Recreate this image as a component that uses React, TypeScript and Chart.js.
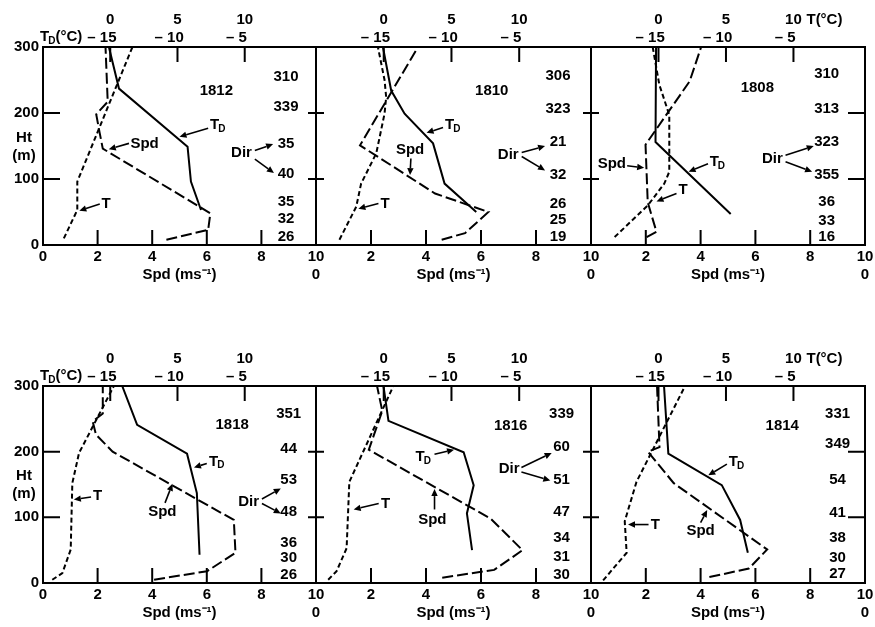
import React, { useEffect, useRef } from "react";
import { Chart, registerables } from "chart.js";

Chart.register(...registerables);

type Pt = [number, number]; // [value, height (m)]
type XY = [number, number]; // [Spd-axis position, height] used for text placement

// ---------- axis ticks ----------
const HT_TICKS = [0, 100, 200, 300];
const SPD_TICKS = [0, 2, 4, 6, 8, 10];
const T_TICKS = [0, 5, 10];
const TD_OFFSET = 15; // T_D scale label = T label - 15

// ---------- 1812 ----------
const T_1812: Pt[] = [[-3.45, 10], [-2.45, 53], [-2.45, 96], [1.65, 300]];
const TD_1812: Pt[] = [[-15.1, 300], [-14.35, 237], [-9.25, 149], [-9.0, 96], [-8.25, 53]];
const SPD_1812: Pt[] = [[4.52, 8], [6.05, 23], [6.13, 48], [2.19, 146], [2.07, 171], [1.95, 198], [2.37, 217], [2.29, 300]];
const DIR_1812 = [26, 32, 35, 40, 35, 339, 310];
const DIR_HT_1812 = [13, 40, 66, 108, 154, 209, 255];

// ---------- 1810 ----------
const T_1810: Pt[] = [[-3.27, 8], [-2.03, 58], [-1.67, 93], [-0.55, 139], [0.06, 199], [0.18, 224], [0.06, 250], [-0.43, 300]];
const TD_1810: Pt[] = [[-15.06, 300], [-14.45, 234], [-13.46, 199], [-11.36, 154], [-10.51, 93], [-8.17, 50]];
const SPD_1810: Pt[] = [[4.57, 8], [5.42, 18], [6.27, 50], [4.33, 78], [1.6, 151], [3.71, 300]];
const DIR_1810 = [19, 25, 26, 32, 21, 323, 306];
const DIR_HT_1810 = [13, 38, 63, 106, 156, 207, 257];

// ---------- 1808 ----------
const T_1808: Pt[] = [[-3.25, 12], [-0.79, 60], [0.43, 93], [0.8, 111], [0.8, 197], [0.06, 243], [-0.43, 300]];
const TD_1808: Pt[] = [[-15.18, 300], [-15.22, 156], [-9.65, 47]];
const SPD_1808: Pt[] = [[2.03, 12], [2.39, 20], [2.21, 45], [2.07, 65], [1.99, 152], [3.6, 248], [4.02, 300]];
const DIR_1808 = [16, 33, 36, 355, 323, 313, 310];
const DIR_HT_1808 = [12, 37, 65, 106, 156, 207, 260];

// ---------- 1818 ----------
const T_1818: Pt[] = [[-4.31, 5], [-3.56, 15], [-2.94, 51], [-2.82, 152], [-2.32, 198], [0.27, 300]];
const TD_1818: Pt[] = [[-14.11, 300], [-13.0, 241], [-9.29, 197], [-8.56, 137], [-8.36, 43]];
const SPD_1818: Pt[] = [[4.07, 5], [6.01, 18], [7.05, 46], [6.99, 96], [2.55, 200], [1.94, 226], [1.82, 246], [2.19, 258], [2.19, 300]];
const DIR_1818 = [26, 30, 36, 48, 53, 44, 351];
const DIR_HT_1818 = [13, 38, 61, 109, 157, 205, 258];

// ---------- 1816 ----------
const T_1816: Pt[] = [[-4.1, 5], [-3.48, 18], [-2.74, 53], [-2.54, 154], [0.71, 300]];
const TD_1816: Pt[] = [[-15.02, 300], [-14.65, 247], [-9.1, 199], [-8.36, 149], [-8.86, 106], [-8.48, 50]];
const SPD_1816: Pt[] = [[4.59, 8], [6.48, 20], [7.51, 50], [6.35, 98], [1.92, 203], [2.41, 262], [2.22, 300]];
const DIR_1816 = [30, 31, 34, 47, 51, 60, 339];
const DIR_HT_1816 = [13, 40, 68, 108, 157, 207, 257];

// ---------- 1814 ----------
const T_1814: Pt[] = [[-4.1, 4], [-2.36, 46], [-2.5, 94], [-1.63, 154], [1.97, 300]];
const TD_1814: Pt[] = [[-14.59, 300], [-14.27, 197], [-10.31, 149], [-8.95, 96], [-8.38, 46]];
const SPD_1814: Pt[] = [[4.32, 9], [5.76, 22], [6.43, 51], [3.02, 152], [2.08, 200], [2.5, 207], [2.41, 300]];
const DIR_1814 = [27, 30, 38, 41, 54, 349, 331];
const DIR_HT_1814 = [14, 39, 69, 107, 157, 212, 257];

// ---------- layout (pixels) ----------
const COLS: [number, number][] = [[43, 316], [316, 591], [591, 865]];
const ROWS: [number, number][] = [[47, 245], [386, 583]];
const PAD_L = 43;
const PAD_R = 22;
const PAD_T = 42;
const PAD_B = 46;
const FONT = "'Liberation Sans', Arial, Helvetica, sans-serif";
const FS = 15;

type Label = { text: string; at: XY; from?: XY; to?: XY };
type Panel = {
  id: string;
  row: number;
  col: number;
  t: Pt[];
  td: Pt[];
  spd: Pt[];
  dir: number[];
  dirHt: number[];
  idAt: XY;
  dirX: number;
  dirLabel?: { at: XY; arrows: [XY, XY][] };
  labels: Label[];
};

const PANELS: Panel[] = [
  {
    id: "1812", row: 0, col: 0, t: T_1812, td: TD_1812, spd: SPD_1812, dir: DIR_1812, dirHt: DIR_HT_1812,
    idAt: [6.35, 234], dirX: 8.9,
    dirLabel: { at: [7.27, 139], arrows: [[[7.76, 143], [8.43, 153]], [[7.76, 130], [8.46, 109]]] },
    labels: [
      { text: "TD", at: [6.42, 182], from: [6.05, 177], to: [5.0, 164] },
      { text: "Spd", at: [3.72, 154], from: [3.15, 154], to: [2.41, 145] },
      { text: "T", at: [2.31, 63], from: [2.08, 62], to: [1.33, 52] },
    ],
  },
  {
    id: "1810", row: 0, col: 1, t: T_1810, td: TD_1810, spd: SPD_1810, dir: DIR_1810, dirHt: DIR_HT_1810,
    idAt: [6.39, 234], dirX: 8.8,
    dirLabel: { at: [6.99, 136], arrows: [[[7.48, 140], [8.33, 150]], [[7.48, 134], [8.33, 113]]] },
    labels: [
      { text: "TD", at: [4.99, 182], from: [4.62, 178], to: [4.02, 170] },
      { text: "Spd", at: [3.42, 144], from: [3.45, 131], to: [3.42, 106] },
      { text: "T", at: [2.51, 63], from: [2.27, 63], to: [1.54, 55] },
    ],
  },
  {
    id: "1808", row: 0, col: 2, t: T_1808, td: TD_1808, spd: SPD_1808, dir: DIR_1808, dirHt: DIR_HT_1808,
    idAt: [6.07, 238], dirX: 8.6,
    dirLabel: { at: [6.62, 131], arrows: [[[7.1, 136], [8.13, 150]], [[7.1, 126], [8.07, 111]]] },
    labels: [
      { text: "TD", at: [4.63, 126], from: [4.27, 123], to: [3.56, 111] },
      { text: "Spd", at: [0.76, 123], from: [1.32, 120], to: [1.94, 117] },
      { text: "T", at: [3.36, 83], from: [3.12, 78], to: [2.39, 66] },
    ],
  },
  {
    id: "1818", row: 1, col: 0, t: T_1818, td: TD_1818, spd: SPD_1818, dir: DIR_1818, dirHt: DIR_HT_1818,
    idAt: [6.93, 241], dirX: 9.0,
    dirLabel: { at: [7.53, 124], arrows: [[[8.02, 128], [8.71, 144]], [[8.02, 121], [8.71, 106]]] },
    labels: [
      { text: "TD", at: [6.38, 185], from: [6.0, 182], to: [5.53, 176] },
      { text: "Spd", at: [4.37, 109], from: [4.47, 122], to: [4.74, 151] },
      { text: "T", at: [2.0, 132], from: [1.76, 131], to: [1.13, 127] },
    ],
  },
  {
    id: "1816", row: 1, col: 1, t: T_1816, td: TD_1816, spd: SPD_1816, dir: DIR_1816, dirHt: DIR_HT_1816,
    idAt: [7.08, 240], dirX: 8.93,
    dirLabel: { at: [7.02, 174], arrows: [[[7.47, 176], [8.57, 198]], [[7.47, 169], [8.52, 156]]] },
    labels: [
      { text: "TD", at: [3.92, 192], from: [4.31, 196], to: [5.02, 203] },
      { text: "Spd", at: [4.23, 96], from: [4.31, 112], to: [4.31, 143] },
      { text: "T", at: [2.53, 121], from: [2.28, 121], to: [1.37, 112] },
    ],
  },
  {
    id: "1814", row: 1, col: 2, t: T_1814, td: TD_1814, spd: SPD_1814, dir: DIR_1814, dirHt: DIR_HT_1814,
    idAt: [6.98, 240], dirX: 9.0,
    labels: [
      { text: "TD", at: [5.33, 184], from: [4.96, 181], to: [4.28, 164] },
      { text: "Spd", at: [4.0, 79], from: [4.0, 92], to: [4.24, 111] },
      { text: "T", at: [2.35, 89], from: [2.1, 89], to: [1.35, 89] },
    ],
  },
];

const font = (size: number) => `bold ${size}px ${FONT}`;

function drawTD(ctx: CanvasRenderingContext2D, x: number, y: number, align: "center" | "left", suffix = "") {
  ctx.font = font(FS);
  const wT = ctx.measureText("T").width;
  ctx.font = font(10);
  const wD = ctx.measureText("D").width;
  ctx.font = font(FS);
  const wS = suffix ? ctx.measureText(suffix).width : 0;
  const total = wT + wD + wS;
  let x0 = align === "center" ? x - total / 2 : x;
  ctx.textAlign = "left";
  ctx.textBaseline = "middle";
  ctx.font = font(FS);
  ctx.fillText("T", x0, y);
  ctx.font = font(10);
  ctx.fillText("D", x0 + wT - 1, y + 4);
  if (suffix) {
    ctx.font = font(FS);
    ctx.fillText(suffix, x0 + wT + wD - 1, y);
  }
}

function arrow(ctx: CanvasRenderingContext2D, x1: number, y1: number, x2: number, y2: number) {
  const ang = Math.atan2(y2 - y1, x2 - x1);
  const len = 7;
  const hw = 3.2;
  const bx = x2 - len * Math.cos(ang);
  const by = y2 - len * Math.sin(ang);
  ctx.beginPath();
  ctx.moveTo(x1, y1);
  ctx.lineTo(bx, by);
  ctx.lineWidth = 1.6;
  ctx.stroke();
  ctx.beginPath();
  ctx.moveTo(x2, y2);
  ctx.lineTo(bx + hw * Math.sin(ang), by - hw * Math.cos(ang));
  ctx.lineTo(bx - hw * Math.sin(ang), by + hw * Math.cos(ang));
  ctx.closePath();
  ctx.fill();
}

function makeOverlay(p: Panel) {
  return {
    id: "overlay_" + p.id,
    afterDatasetsDraw(chart: any) {
      const ctx: CanvasRenderingContext2D = chart.ctx;
      const a = chart.chartArea;
      const xs = chart.scales.x;
      const xt = chart.scales.xT;
      const ys = chart.scales.y;
      const X = (v: number) => xs.getPixelForValue(v);
      const Y = (v: number) => ys.getPixelForValue(v);
      ctx.save();
      ctx.strokeStyle = "#000";
      ctx.fillStyle = "#000";
      ctx.lineWidth = 2;
      ctx.strokeRect(a.left, a.top, a.right - a.left, a.bottom - a.top);
      // tick marks
      ctx.beginPath();
      for (const v of SPD_TICKS) {
        if (v === 0 || v === 10) continue;
        ctx.moveTo(X(v), a.bottom);
        ctx.lineTo(X(v), a.bottom - 15);
      }
      for (const v of T_TICKS) {
        const px = xt.getPixelForValue(v);
        ctx.moveTo(px, a.top);
        ctx.lineTo(px, a.top + 15);
      }
      for (const v of HT_TICKS) {
        if (v === 0 || v === 300) continue;
        const ll = p.col === 0 ? 17 : 8;
        const rl = p.col === 2 ? 17 : 8;
        ctx.moveTo(a.left, Y(v));
        ctx.lineTo(a.left + ll, Y(v));
        ctx.moveTo(a.right, Y(v));
        ctx.lineTo(a.right - rl, Y(v));
      }
      ctx.stroke();

      ctx.textAlign = "center";
      ctx.textBaseline = "middle";
      ctx.font = font(FS);
      // id
      ctx.fillText(p.id, X(p.idAt[0]), Y(p.idAt[1]));
      // wind directions
      p.dir.forEach((d, i) => {
        ctx.fillText(String(d), X(p.dirX), Y(p.dirHt[i]));
      });
      if (p.dirLabel) {
        ctx.fillText("Dir", X(p.dirLabel.at[0]), Y(p.dirLabel.at[1]));
        for (const [f, t] of p.dirLabel.arrows) arrow(ctx, X(f[0]), Y(f[1]), X(t[0]), Y(t[1]));
      }
      for (const l of p.labels) {
        if (l.text === "TD") drawTD(ctx, X(l.at[0]), Y(l.at[1]), "center");
        else {
          ctx.textAlign = "center";
          ctx.font = font(FS);
          ctx.fillText(l.text, X(l.at[0]), Y(l.at[1]));
        }
        if (l.from && l.to) arrow(ctx, X(l.from[0]), Y(l.from[1]), X(l.to[0]), Y(l.to[1]));
      }
      ctx.textAlign = "center";
      ctx.font = font(FS);
      if (p.col === 0) {
        ctx.fillText("Ht", a.left - 19, Y(163));
        ctx.fillText("(m)", a.left - 19, Y(135));
        drawTD(ctx, a.left - 3, a.top - 10, "left", "(°C)");
      }
      if (p.col === 2) {
        ctx.textAlign = "left";
        ctx.font = font(FS);
        ctx.fillText("T(°C)", xt.getPixelForValue(10) + 13, a.top - 27);
      }
      ctx.restore();
    },
  };
}

function toXY(pts: Pt[]) {
  return pts.map(([v, h]) => ({ x: v, y: h }));
}

function PanelChart({ p }: { p: Panel }) {
  const ref = useRef<HTMLCanvasElement | null>(null);
  const [cl, cr] = COLS[p.col];
  const [rt, rb] = ROWS[p.row];
  const w = cr - cl + PAD_L + PAD_R;
  const h = rb - rt + PAD_T + PAD_B;
  const left = cl - PAD_L;
  const top = rt - PAD_T;

  useEffect(() => {
    if (!ref.current) return;
    const baseFont = { family: FONT, size: FS, weight: "bold" as const, lineHeight: 1.2 };
    const chart = new Chart(ref.current, {
      type: "line",
      data: {
        datasets: [
          { data: toXY(p.td), xAxisID: "xTD", yAxisID: "y", borderColor: "#000", borderWidth: 2, pointRadius: 0, tension: 0, fill: false },
          { data: toXY(p.spd), xAxisID: "x", yAxisID: "y", borderColor: "#000", borderWidth: 2, borderDash: [11, 4], pointRadius: 0, tension: 0, fill: false },
          { data: toXY(p.t), xAxisID: "xT", yAxisID: "y", borderColor: "#000", borderWidth: 2, borderDash: [5, 3], pointRadius: 0, tension: 0, fill: false },
        ],
      },
      options: {
        animation: false,
        responsive: false,
        devicePixelRatio: 1,
        events: [],
        layout: { padding: { left: 0, right: PAD_R, top: 0, bottom: 0 }, autoPadding: false },
        plugins: { legend: { display: false }, tooltip: { enabled: false } },
        scales: {
          x: {
            type: "linear",
            position: "bottom",
            min: 0,
            max: 10,
            afterBuildTicks: (s: any) => { s.ticks = SPD_TICKS.map((v) => ({ value: v })); },
            afterFit: (s: any) => { s.height = PAD_B; },
            grid: { display: false, drawTicks: false },
            border: { display: false },
            ticks: {
              autoSkip: false,
              maxRotation: 0,
              padding: 3,
              color: "#000",
              font: baseFont,
              callback: (v: any) => {
                if (v === 0) return p.col === 0 ? "0" : ["", "0"];
                if (v === 10) return p.col === 2 ? ["10", "0"] : "10";
                return String(v);
              },
            },
            title: { display: true, text: "Spd (ms⁻¹)", color: "#000", font: baseFont, padding: { top: 4, bottom: 7 } },
          },
          xT: {
            type: "linear",
            position: "top",
            min: -5,
            max: 15.3,
            afterBuildTicks: (s: any) => { s.ticks = T_TICKS.map((v) => ({ value: v })); },
            afterFit: (s: any) => { s.height = PAD_T; },
            grid: { display: false, drawTicks: false },
            border: { display: false },
            ticks: {
              autoSkip: false,
              maxRotation: 0,
              padding: 0,
              color: "#000",
              font: baseFont,
              callback: (v: any) => [String(v), "– " + String(TD_OFFSET - v) + "    "],
            },
          },
          xTD: { type: "linear", display: false, min: -5 - TD_OFFSET, max: 15.3 - TD_OFFSET },
          y: {
            type: "linear",
            position: "left",
            min: 0,
            max: 300,
            afterBuildTicks: (s: any) => { s.ticks = HT_TICKS.map((v) => ({ value: v })); },
            afterFit: (s: any) => { s.width = PAD_L; },
            grid: { display: false, drawTicks: false },
            border: { display: false },
            ticks: { display: p.col === 0, padding: 4, color: "#000", font: baseFont, autoSkip: false },
          },
        },
      } as any,
      plugins: [makeOverlay(p)],
    });
    return () => chart.destroy();
  }, []);

  return (
    <canvas
      ref={ref}
      width={w}
      height={h}
      style={{ position: "absolute", left, top, width: w, height: h }}
    />
  );
}

export default function App() {
  return (
    <div style={{ position: "absolute", left: 0, top: 0, width: 875, height: 627, background: "#fff", overflow: "hidden" }}>
      {PANELS.map((p) => (
        <PanelChart key={p.id} p={p} />
      ))}
    </div>
  );
}
